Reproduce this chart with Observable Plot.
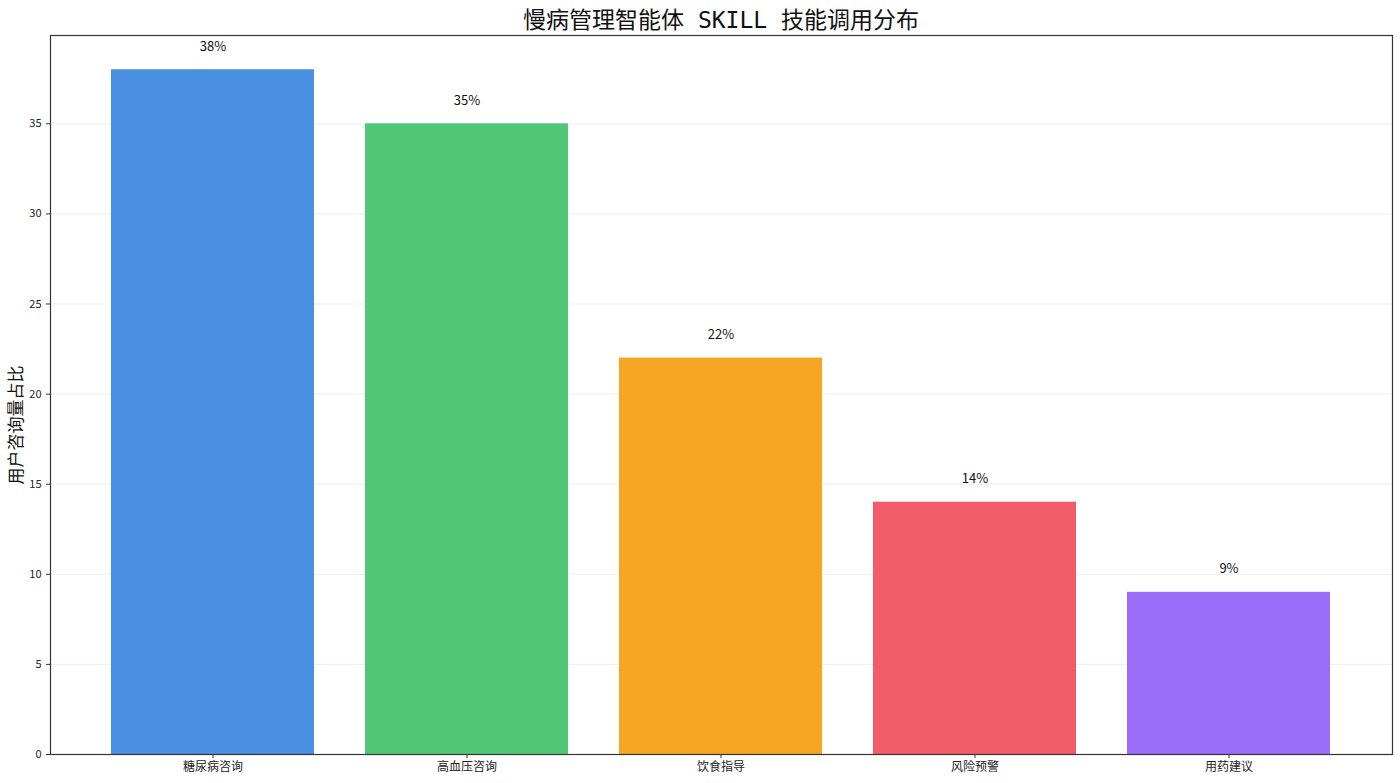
<!DOCTYPE html>
<html><head><meta charset="utf-8">
<script src="https://cdn.jsdelivr.net/npm/d3@7"></script>
<script src="https://cdn.jsdelivr.net/npm/@observablehq/plot@0.6"></script>
<style>
body{margin:0;background:#fff;font-family:"Noto Sans CJK SC","Noto Sans",sans-serif;}
#title{height:31px;line-height:40px;text-align:center;font-size:23px;color:#111;padding-left:42px;font-family:"DejaVu Sans Mono","Noto Sans CJK SC",sans-serif;}
</style></head><body>
<div id="title">慢病管理智能体 SKILL 技能调用分布</div>
<div id="chart"></div>
<script>
const categories = ["糖尿病咨询","高血压咨询","饮食指导","风险预警","用药建议"];
const values = [38, 35, 22, 14, 9];
const colors = ["#4A90E2","#50C878","#F5A623","#F25C6A","#9B6CF8"];
const yTicks = [0,5,10,15,20,25,30,35];

const data = categories.map((c,i)=>({cat:c, v:values[i], color:colors[i], label:values[i]+"%"}));

const chart = Plot.plot({
  width:1400, height:752,
  marginLeft:50, marginRight:8, marginTop:4, marginBottom:29,
  style:{fontFamily:'"Noto Sans CJK SC","Noto Sans",sans-serif', background:"#fff"},
  x:{domain:categories, paddingInner:0.2, paddingOuter:0.24, label:null, tickSize:4},
  y:{domain:[0,39.9], ticks:yTicks, label:null, tickSize:4},
  marks:[
    Plot.gridY(yTicks, {stroke:"#e6e6e6", strokeOpacity:0.8, strokeWidth:0.8}),
    Plot.barY(data, {x:"cat", y:"v", fill:"color"}),
    Plot.text(data, {x:"cat", y:"v", text:"label", dy:-23, fontSize:13, fill:"#111"}),
    Plot.axisY({ticks:yTicks, tickSize:4, fontSize:11, fill:"#222", stroke:"#333", label:null}),
    Plot.axisX({tickSize:4, fontSize:12, fill:"#222", stroke:"#333", label:null, tickPadding:4}),
    Plot.frame({stroke:"#333", strokeWidth:1.2})
  ]
});
document.getElementById("chart").appendChild(chart);
const svg = d3.select(chart);
svg.append("text")
  .attr("transform","translate(17,394) rotate(-90)")
  .attr("text-anchor","middle")
  .attr("dominant-baseline","middle")
  .attr("font-size",17)
  .attr("fill","#111")
  .text("用户咨询量占比");
</script></body></html>
